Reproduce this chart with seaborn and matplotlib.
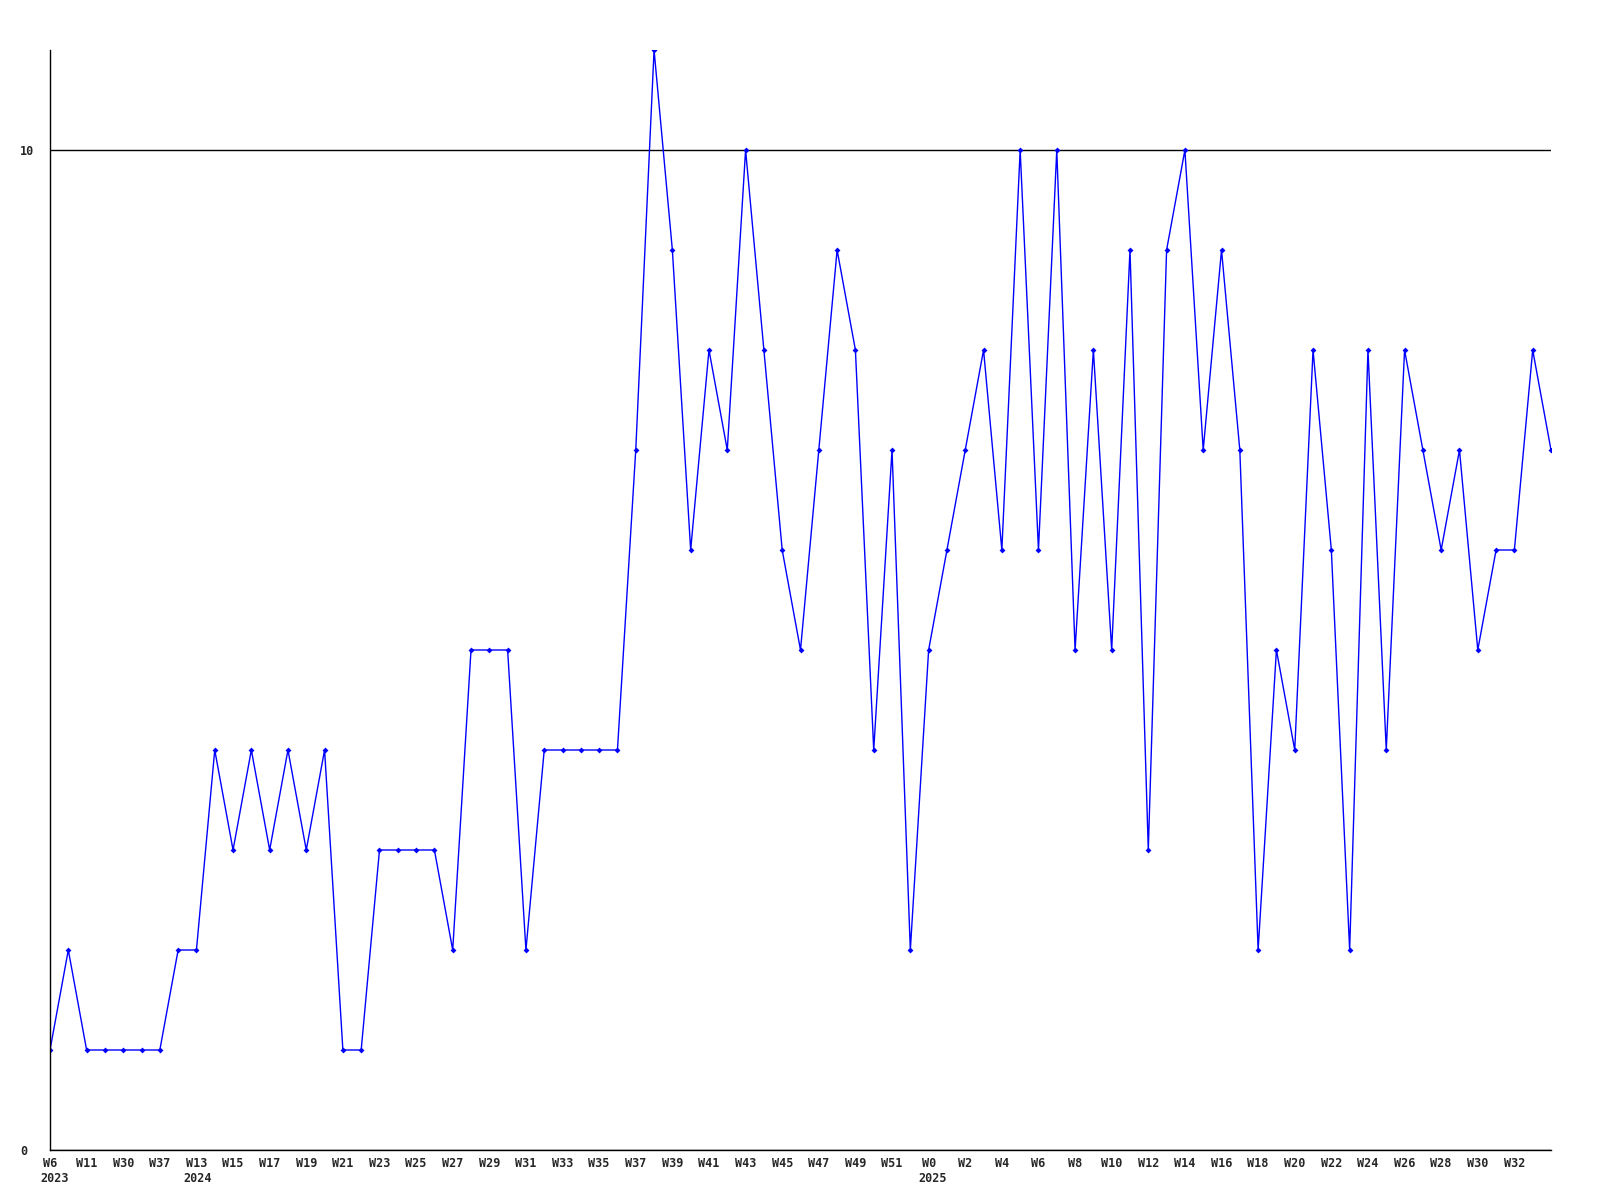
import matplotlib
matplotlib.use("Agg")
import matplotlib.pyplot as plt
import matplotlib.transforms as mtransforms
import seaborn as sns
import pandas as pd

# weekly counts, one per point
counts = [1, 2, 1, 1, 1, 1, 1, 2, 2, 4, 3, 4, 3, 4, 3, 4, 1, 1, 3, 3,
          3, 3, 2, 5, 5, 5, 2, 4, 4, 4, 4, 4, 7, 11, 9, 6, 8, 7, 10, 8,
          6, 5, 7, 9, 8, 4, 7, 2, 5, 6, 7, 8, 6, 10, 6, 10, 5, 8, 5, 9,
          3, 9, 10, 7, 9, 7, 2, 5, 4, 8, 6, 2, 8, 4, 8, 7, 6, 7, 5, 6,
          6, 8, 7]

# labels shown on every second point
week_labels = ["W6", "W11", "W30", "W37",
               "W13", "W15", "W17", "W19", "W21", "W23", "W25", "W27", "W29",
               "W31", "W33", "W35", "W37", "W39", "W41", "W43", "W45", "W47",
               "W49", "W51",
               "W0", "W2", "W4", "W6", "W8", "W10", "W12", "W14", "W16", "W18",
               "W20", "W22", "W24", "W26", "W28", "W30", "W32"]
year_labels = {0: "2023", 8: "2024", 48: "2025"}

y_ticks = [0, 10]

df = pd.DataFrame({"idx": range(len(counts)), "count": counts})

sns.set_style("white")
plt.rcParams["font.family"] = ["DejaVu Sans Mono"]

fig = plt.figure(figsize=(16, 12), dpi=100)
ax = fig.add_axes([50 / 1600, 50 / 1200, 1501 / 1600, 1100 / 1200])

sns.lineplot(data=df, x="idx", y="count", ax=ax, color="#0000ff",
             linewidth=1.0, marker="D", markersize=3, markeredgewidth=0)

ax.set_xlim(0, len(counts) - 1)
ax.set_ylim(0, 11)

tick_pos = list(range(0, 2 * len(week_labels), 2))
ax.set_xticks(tick_pos)
ax.set_xticklabels(week_labels, fontsize=8.5, fontweight="bold")
ax.set_yticks(y_ticks)
ax.set_yticklabels([str(v) for v in y_ticks], fontsize=8.5,
                   fontweight="bold", ha="left")
ax.tick_params(axis="x", length=0, pad=5)
ax.tick_params(axis="y", length=0, pad=21.6)

ax.yaxis.grid(True, color="black", linewidth=1)
ax.xaxis.grid(False)
for side in ["top", "right"]:
    ax.spines[side].set_visible(False)
for side in ["left", "bottom"]:
    ax.spines[side].set_color("black")
    ax.spines[side].set_linewidth(1)

ax.set_xlabel("")
ax.set_ylabel("")

trans = mtransforms.blended_transform_factory(ax.transData, ax.transAxes)
for pos, yr in year_labels.items():
    wl = week_labels[pos // 2]
    ax.annotate(yr, xy=(pos, 0), xycoords=trans,
                xytext=(-len(wl) * 0.3 * 8.5 - 2, -16), textcoords="offset points",
                ha="left", va="top", fontsize=8.5, fontweight="bold",
                annotation_clip=False)

fig.savefig("out.png", dpi=100)
